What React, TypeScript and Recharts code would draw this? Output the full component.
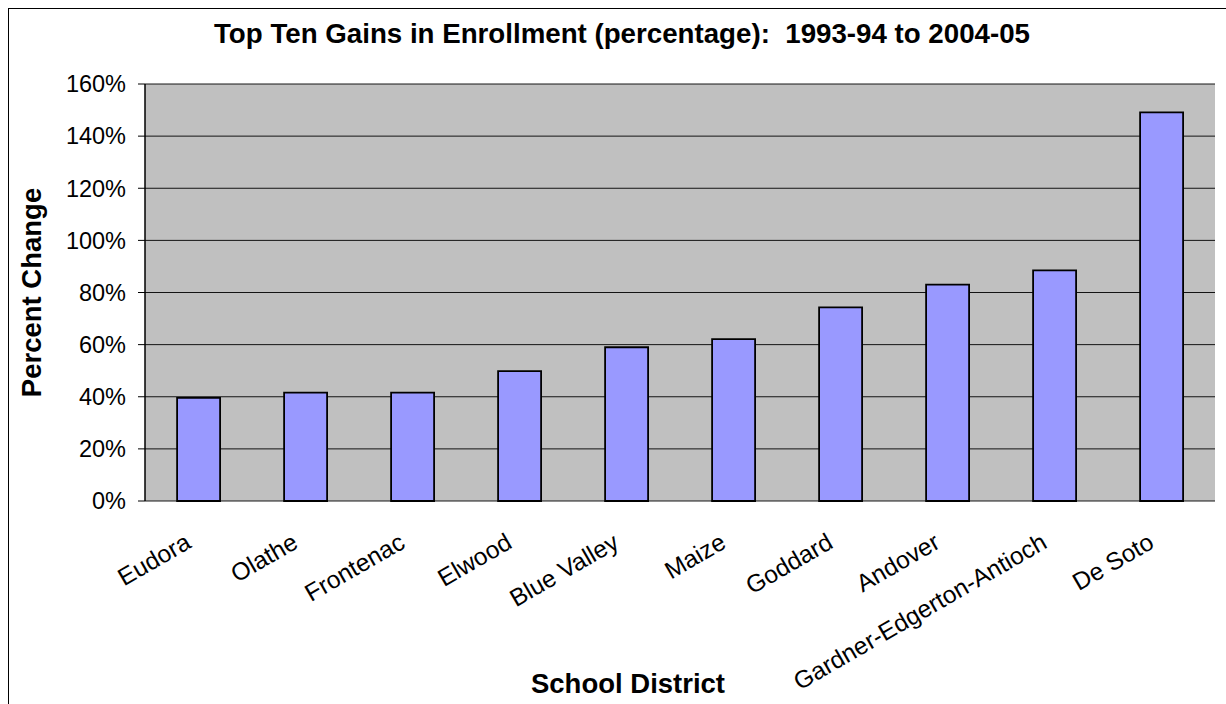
import React from 'react';
import { BarChart, Bar, XAxis, YAxis, CartesianGrid, Label } from 'recharts';

const districts = ['Eudora', 'Olathe', 'Frontenac', 'Elwood', 'Blue Valley', 'Maize', 'Goddard', 'Andover', 'Gardner-Edgerton-Antioch', 'De Soto'];
const percentChange = [39.6, 41.6, 41.6, 49.8, 59.0, 62.1, 74.3, 83.0, 88.5, 149.1];
const yTicks = [0, 20, 40, 60, 80, 100, 120, 140, 160];
const boundaryTicks = [0, 1, 2, 3, 4, 5, 6, 7, 8, 9, 10];

const data = districts.map((name, i) => ({ name, value: percentChange[i] }));

const FONT = '"Liberation Sans", Arial, Helvetica, sans-serif';

const DistrictTick = (props: any) => {
  const { x, y, payload } = props;
  return (
    <g transform={`translate(${x - 6},${y + 46})`}>
      <text textAnchor="end" transform="rotate(-30)" fontSize={24.5} fontFamily={FONT} fill="#000">
        {payload.value}
      </text>
    </g>
  );
};

const noTick = () => <g />;

export default function App() {
  return (
    <div style={{ position: 'absolute', left: 8, top: 8, width: 1218, height: 696, overflow: 'hidden' }}>
      <div style={{ position: 'absolute', left: -1, top: -1, width: 1230, height: 710, borderLeft: '2px solid #000', borderTop: '2px solid #000' }} />
      <svg width={1218} height={696} style={{ position: 'absolute', left: 0, top: 0 }}>
        <text x={614} y={35} textAnchor="middle" fontSize={27.7} fontWeight="bold" fontFamily={FONT} fill="#000" style={{ whiteSpace: 'pre' }}>
          {'Top Ten Gains in Enrollment (percentage):  1993-94 to 2004-05'}
        </text>
      </svg>
      <div style={{ position: 'absolute', left: 0, top: 0 }}>
        <BarChart width={1218} height={696} data={data} margin={{ top: 76, right: 11, left: 0, bottom: 0 }} barCategoryGap="30%">
          <CartesianGrid vertical={false} stroke="#000" strokeOpacity={0.9} fill="#C0C0C0" xAxisId="cat" />
          <XAxis
            xAxisId="bounds"
            type="number"
            domain={[0, 10]}
            ticks={boundaryTicks}
            allowDataOverflow
            height={0}
            tick={noTick}
            tickSize={7}
            stroke="#000"
            tickLine={{ stroke: '#000' }}
            axisLine={{ stroke: '#000', strokeWidth: 1.5 }}
          />
          <XAxis
            xAxisId="cat"
            dataKey="name"
            type="category"
            height={203}
            interval={0}
            axisLine={false}
            tickLine={false}
            tickSize={0}
            tickMargin={0}
            tick={<DistrictTick />}
          >
            <Label
              content={(p: any) => (
                <text x={620} y={p.viewBox.y + 192} textAnchor="middle" fontSize={27.5} fontWeight="bold" fontFamily={FONT} fill="#000">
                  School District
                </text>
              )}
            />
          </XAxis>
          <XAxis
            xAxisId="top"
            orientation="top"
            type="number"
            domain={[0, 10]}
            allowDataOverflow
            height={0}
            tick={noTick}
            tickLine={false}
            axisLine={{ stroke: '#808080', strokeWidth: 1.5 }}
          />
          <YAxis
            width={137}
            domain={[0, 160]}
            ticks={yTicks}
            interval={0}
            tickFormatter={(v: number) => `${v}%`}
            tickSize={7}
            tickMargin={12}
            axisLine={{ stroke: '#000', strokeWidth: 1.5 }}
            tickLine={{ stroke: '#000' }}
            tick={{ fontSize: 23.5, fontFamily: FONT, fill: '#000' }}
          >
            <Label
              content={(p: any) => {
                const cy = p.viewBox.y + p.viewBox.height / 2;
                return (
                  <text x={33} y={cy} transform={`rotate(-90, 33, ${cy})`} textAnchor="middle" fontSize={27.5} fontWeight="bold" fontFamily={FONT} fill="#000">
                    Percent Change
                  </text>
                );
              }}
            />
          </YAxis>
          <YAxis
            yAxisId="right"
            orientation="right"
            width={0}
            domain={[0, 160]}
            tick={noTick}
            tickLine={false}
            axisLine={{ stroke: '#808080', strokeWidth: 1.5 }}
          />
          <Bar xAxisId="cat" dataKey="value" fill="#9999FF" stroke="#000" strokeWidth={1.8} isAnimationActive={false} />
        </BarChart>
      </div>
    </div>
  );
}
